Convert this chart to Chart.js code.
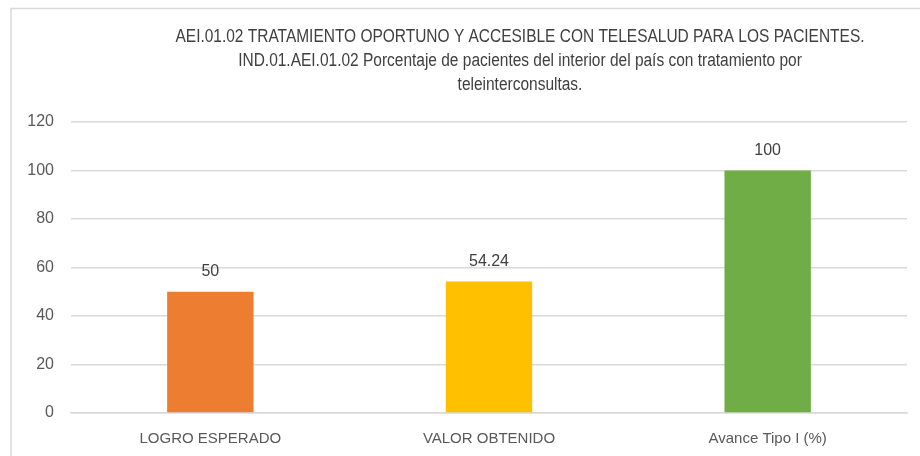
<!DOCTYPE html>
<html><head><meta charset="utf-8">
<script src="https://cdn.jsdelivr.net/npm/chart.js@4.4.1/dist/chart.umd.min.js"></script>
<style>html,body{margin:0;padding:0;background:#fff;}#wrap{width:920px;height:456px;position:relative;}</style>
</head><body><div id="wrap"><canvas id="c" width="920" height="456"></canvas></div>
<script>
const categories = ["LOGRO ESPERADO", "VALOR OBTENIDO", "Avance Tipo I (%)"];
const values = [50, 54.24, 100];
const valueLabels = ["50", "54.24", "100"];
const barColors = ["#ED7D31", "#FFC000", "#70AD47"];
const titleLines = [
  "AEI.01.02 TRATAMIENTO OPORTUNO Y ACCESIBLE CON TELESALUD PARA LOS PACIENTES.",
  "IND.01.AEI.01.02 Porcentaje de pacientes del interior del país con tratamiento por",
  "teleinterconsultas."
];
const yTicks = [0, 20, 40, 60, 80, 100, 120];

const frame = {
  id: 'frame',
  beforeDraw(chart) {
    const ctx = chart.ctx;
    ctx.save();
    ctx.strokeStyle = '#d9d9d9';
    ctx.lineWidth = 1.5;
    ctx.beginPath();
    ctx.moveTo(11, 456); ctx.lineTo(11, 8.5); ctx.lineTo(920, 8.5);
    ctx.stroke();
    ctx.restore();
  },
  afterDraw(chart) {
    const ctx = chart.ctx;
    ctx.save();
    ctx.fillStyle = '#404040';
    ctx.textAlign = 'center';
    ctx.textBaseline = 'middle';
    // condensed look: draw taller font compressed horizontally
    titleLines.forEach((t, i) => {
      ctx.save();
      ctx.translate(520, 37 + i * 24);
      ctx.scale(0.86, 1);
      ctx.font = '18px "Liberation Sans", Arial, sans-serif';
      ctx.fillText(t, 0, 0);
      ctx.restore();
    });
    // data labels
    ctx.font = '16px "Liberation Sans", Arial, sans-serif';
    ctx.fillStyle = '#404040';
    const meta = chart.getDatasetMeta(0);
    meta.data.forEach((bar, i) => {
      ctx.fillText(valueLabels[i], bar.x, bar.y - 20);
    });
    ctx.restore();
  }
};

new Chart(document.getElementById('c'), {
  type: 'bar',
  data: {
    labels: categories,
    datasets: [{
      data: values,
      backgroundColor: barColors,
      borderWidth: 0,
      categoryPercentage: 1,
      barPercentage: 0.31
    }]
  },
  options: {
    responsive: false,
    animation: false,
    devicePixelRatio: 1,
    layout: { padding: { left: 10, right: 13, top: 122, bottom: 0 } },
    plugins: { legend: { display: false }, title: { display: false }, tooltip: { enabled: false } },
    scales: {
      x: {
        grid: { display: false, drawTicks: false },
        border: { color: '#d9d9d9', width: 1.5 },
        ticks: { color: '#595959', font: { size: 15, family: '"Liberation Sans", Arial, sans-serif' }, padding: 17 },
        afterFit(s) { s.height = 43; }
      },
      y: {
        min: 0, max: 120,
        afterBuildTicks(s) { s.ticks = yTicks.map(v => ({ value: v })); },
        grid: { color: '#d9d9d9', lineWidth: 1.5, drawTicks: false },
        border: { display: false },
        ticks: { color: '#595959', font: { size: 16, family: '"Liberation Sans", Arial, sans-serif' }, padding: 17 },
        afterFit(s) { s.width = 61; }
      }
    }
  },
  plugins: [frame]
});
</script></body></html>
